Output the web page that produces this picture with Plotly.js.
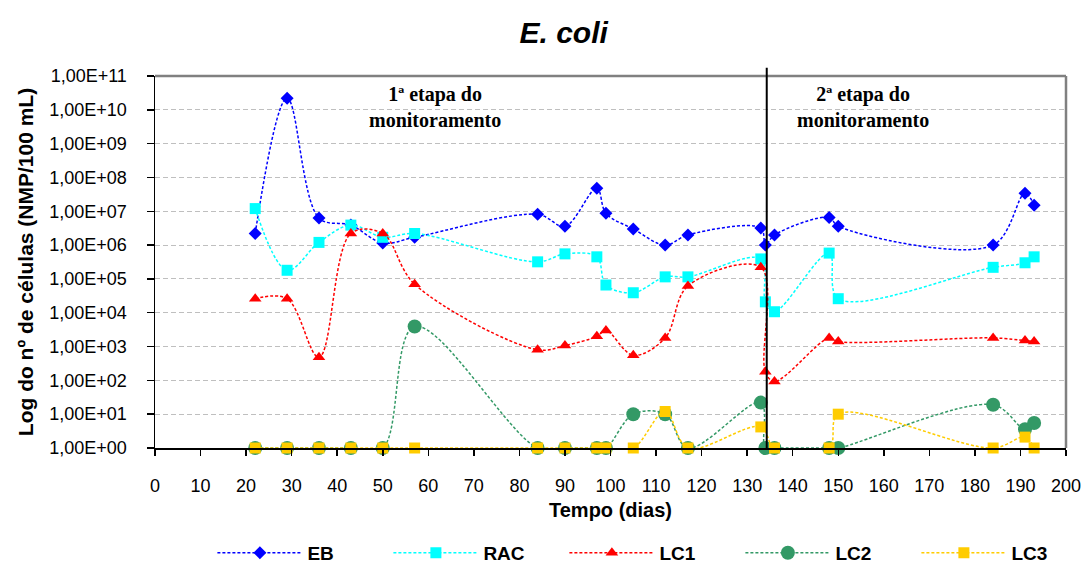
<!DOCTYPE html>
<html>
<head>
<meta charset="utf-8">
<script src="https://cdn.plot.ly/plotly-3.0.1.min.js"></script>
<style>html,body{margin:0;padding:0;background:#fff;}#chart{width:1084px;height:565px;}</style>
</head>
<body>
<div id="chart"></div>
<script>
// ---- data ----
const daysAll = [22,29,36,43,50,57,84,90,97,99,105,112,117,133,134,136,148,150,184,191,193];
const EB  = [2.2e6,2.2e10,6.3e6,3.9e6,1.15e6,1.7e6,8.1e6,3.6e6,4.8e7,8.7e6,3.0e6,1.0e6,2.0e6,3.2e6,1.0e6,2.0e6,6.6e6,3.6e6,1.0e6,3.4e7,1.5e7];
const RAC = [1.2e7,1.8e5,1.2e6,3.9e6,1.7e6,2.2e6,3.2e5,5.5e5,4.5e5,6.6e4,3.9e4,1.15e5,1.15e5,3.9e5,2.1e4,1.07e4,5.8e5,2.6e4,2.2e5,3.0e5,4.5e5];
const LC1 = [2.6e4,2.6e4,4.8e2,2.2e6,2.2e6,7.0e4,8.0e2,1.07e3,2.0e3,3.0e3,5.5e2,1.8e3,6.2e4,2.2e5,1.8e2,93,1.8e3,1.4e3,1.8e3,1.5e3,1.4e3];
const LC2 = [1,1,1,1,1,3.9e3,1,1,1,1,10,10,1,22,1,1,1,1,19,3.6,5.5];
const daysLC3 = [22,29,36,43,50,57,84,90,97,99,105,112,117,133,136,148,150,184,191,193];
const LC3 = [1,1,1,1,1,1,1,1,1,1,1,12,1,4.2,1,1,10,1,2.1,1];
const seriesNames = ['EB','RAC','LC1','LC2','LC3'];
const yTickVals = [1e0,1e1,1e2,1e3,1e4,1e5,1e6,1e7,1e8,1e9,1e10,1e11];
const yTickText = ['1,00E+00','1,00E+01','1,00E+02','1,00E+03','1,00E+04','1,00E+05','1,00E+06','1,00E+07','1,00E+08','1,00E+09','1,00E+10','1,00E+11'];
const xTickVals = [0,10,20,30,40,50,60,70,80,90,100,110,120,130,140,150,160,170,180,190,200];
const stageDivider = 134.3;
const stageLabels = ['1ª etapa do<br>monitoramento','2ª etapa do<br>monitoramento'];
const stageLabelX = [61.5,155.5];

const sans = '"Liberation Sans", Arial, sans-serif';
const serif = '"Liberation Serif", "Times New Roman", serif';

function tr(name, x, y, color, symbol, size) {
  return {
    type: 'scatter', mode: 'lines+markers', name: name, x: x, y: y,
    line: {color: color, width: 1.5, dash: '3px,2px', shape: 'spline', smoothing: 1},
    marker: {color: color, symbol: symbol, size: size, line: {width: 0}},
    cliponaxis: false
  };
}

const data = [
  tr(seriesNames[0], daysAll, EB, '#0000FF', 'diamond', 10),
  tr(seriesNames[1], daysAll, RAC, '#00FFFF', 'square', 11),
  tr(seriesNames[2], daysAll, LC1, '#FF0000', 'triangle-up', 11),
  tr(seriesNames[3], daysAll, LC2, '#339966', 'circle', 14),
  tr(seriesNames[4], daysLC3, LC3, '#FFCC00', 'square', 11)
];

const layout = {
  width: 1084, height: 565,
  paper_bgcolor: '#fff', plot_bgcolor: '#fff',
  margin: {l: 155, r: 18, t: 76, b: 117, autoexpand: false},
  title: {text: '<i>E. coli</i>', font: {family: sans, size: 30, color: '#000', weight: 'bold'},
          x: 0.52, xref: 'container', xanchor: 'center', y: 0.943, yref: 'container', yanchor: 'middle'},
  xaxis: {
    range: [0, 200], tickvals: xTickVals, ticks: 'outside', ticklen: 6, tickcolor: '#000', tickwidth: 1.5,
    showline: true, linecolor: '#000', linewidth: 2, showgrid: false, zeroline: false,
    tickfont: {family: sans, size: 18, color: '#000'}, ticklabelstandoff: 14, ticklabeloverflow: 'allow',
    title: {text: 'Tempo (dias)', font: {family: sans, size: 20, color: '#000', weight: 'bold'}, standoff: 8}
  },
  yaxis: {
    type: 'log', range: [0, 11], tickvals: yTickVals, ticktext: yTickText,
    ticks: 'outside', ticklen: 7, tickcolor: '#000', tickwidth: 1.5,
    showline: true, linecolor: '#000', linewidth: 1.5,
    showgrid: true, gridcolor: '#BFBFBF', gridwidth: 1, griddash: '5px,3px', zeroline: false,
    tickfont: {family: sans, size: 18, color: '#000'}, ticklabelstandoff: 16,
    title: {text: 'Log do nº de células (NMP/100 mL)', font: {family: sans, size: 21, color: '#000', weight: 'bold'}, standoff: 10}
  },
  showlegend: true,
  legend: {orientation: 'h', x: 0.063, xanchor: 'left', y: -0.282, yanchor: 'middle',
           font: {family: sans, size: 19, color: '#000', weight: 'bold'}, itemwidth: 85, entrywidth: 76,
           bgcolor: 'rgba(0,0,0,0)', traceorder: 'normal'},
  shapes: [
    {type: 'line', xref: 'paper', yref: 'paper', x0: 0, x1: 1, y0: 1, y1: 1, line: {color: '#808080', width: 2.5}},
    {type: 'line', xref: 'paper', yref: 'paper', x0: 1, x1: 1, y0: 0, y1: 1, line: {color: '#808080', width: 2.5}},
    {type: 'line', xref: 'x', yref: 'paper', x0: stageDivider, x1: stageDivider, y0: 0, y1: 1.022, line: {color: '#000', width: 2}}
  ],
  annotations: stageLabels.map((t, i) => ({
    text: t, xref: 'x', yref: 'paper', x: stageLabelX[i], y: 0.9155, xanchor: 'center', yanchor: 'middle',
    showarrow: false, align: 'center', font: {family: serif, size: 20, color: '#000', weight: 'bold'}
  }))
};

Plotly.newPlot('chart', data, layout, {displayModeBar: false, staticPlot: true});
</script>
</body>
</html>
